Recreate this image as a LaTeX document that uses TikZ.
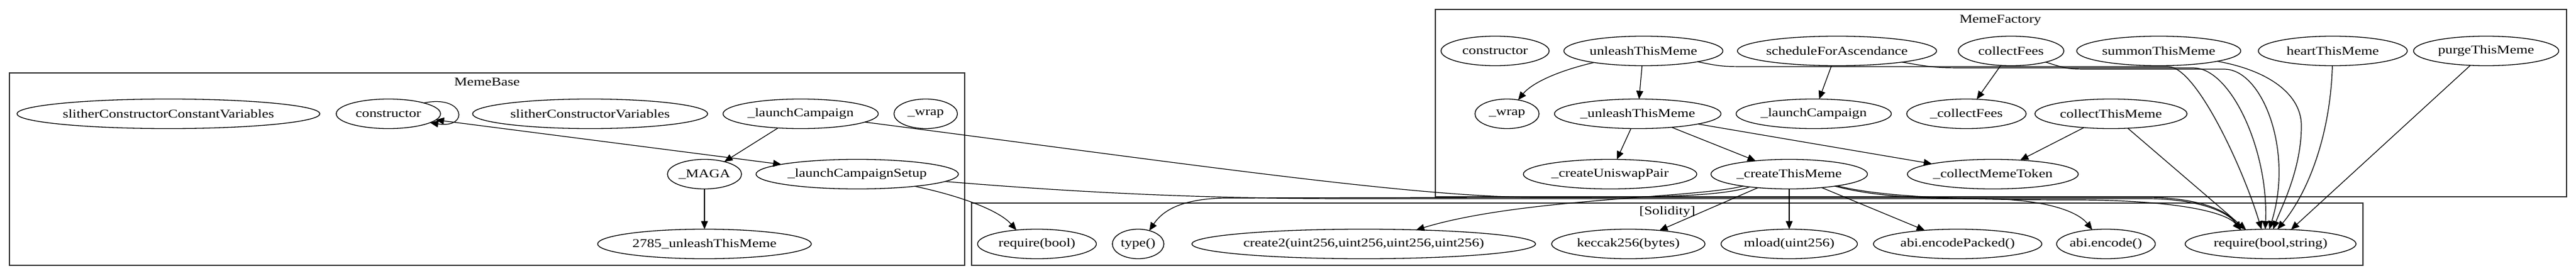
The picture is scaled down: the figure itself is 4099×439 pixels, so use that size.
\documentclass[tikz,border=0pt]{standalone}
\usepackage{fontspec}
\setmainfont{Liberation Serif}
\usetikzlibrary{arrows.meta,shapes.geometric}
\newcommand\lbl[1]{\scalebox{1.22}[1]{#1}}
\newcommand\fnode[5]{\node[fn, minimum width=#4pt] (#1) at (#2,#3) {\makebox[0pt]{\lbl{#5}}};}
\tikzset{
  fn/.style={ellipse, draw, line width=1.3pt, inner sep=0pt, outer sep=0pt,
             minimum height=47pt, font=\fontsize{19}{21}\selectfont},
  edge/.style={line width=1.2pt, -{Triangle[length=13pt,width=11pt]}},
  bothedge/.style={line width=1.2pt, {Triangle[length=13pt,width=11pt]}-{Triangle[length=13pt,width=11pt]}},
  clus/.style={draw=black!80, line width=1.6pt},
  ctitle/.style={font=\fontsize{19}{21}\selectfont, inner sep=0pt}
}
\begin{document}
\begin{tikzpicture}[x=1pt,y=-1pt]
\fill[white] (0,0) rectangle (4099,439);
\useasboundingbox (0,0) rectangle (4099,439);

% clusters
\draw[clus] (15,116) rectangle (1535,422);
\node[ctitle] (tbase) at (775,130) {\lbl{MemeBase}};
\draw[clus] (1546,323) rectangle (3760,422);
\node[ctitle] (tsol) at (2653,337) {\lbl{[Solidity]}};
\draw[clus] (2284,15) rectangle (4084,313);
\node[ctitle] (tfac) at (3183,32) {\lbl{MemeFactory}};

% MemeBase nodes
\fnode{bscc}{268}{181}{482}{slitherConstructorConstantVariables}
\fnode{bcon}{618}{181}{166}{constructor}
\fnode{bscv}{939}{181}{374}{slitherConstructorVariables}
\fnode{blc}{1274}{181}{247}{\_launchCampaign}
\fnode{bwrap}{1473}{181}{101}{\_wrap}
\fnode{bmaga}{1121}{277}{118}{\_MAGA}
\fnode{blcs}{1364}{277}{322}{\_launchCampaignSetup}
\fnode{bnum}{1121}{388}{340}{2785\_unleashThisMeme}

% Solidity nodes
\fnode{sreqb}{1650}{388}{189}{require(bool)}
\fnode{stype}{1811}{388}{82}{type()}
\fnode{screate}{2170}{388}{547}{create2(uint256,uint256,uint256,uint256)}
\fnode{skec}{2591}{388}{244}{keccak256(bytes)}
\fnode{smload}{2847}{388}{217}{mload(uint256)}
\fnode{senp}{3115}{388}{268}{abi.encodePacked()}
\fnode{senc}{3351}{388}{157}{abi.encode()}
\fnode{sreq}{3613}{388}{272}{require(bool,string)}

% MemeFactory nodes
\fnode{fcon}{2379}{81}{172}{constructor}
\fnode{funl}{2615}{81}{253}{unleashThisMeme}
\fnode{fsch}{2923}{81}{317}{scheduleForAscendance}
\fnode{fcf}{3200}{81}{168}{collectFees}
\fnode{fsum}{3435}{81}{261}{summonThisMeme}
\fnode{fhrt}{3712}{81}{237}{heartThisMeme}
\fnode{fprg}{3956}{81}{231}{purgeThisMeme}
\fnode{fwrap}{2398}{181}{102}{\_wrap}
\fnode{fpunl}{2606}{181}{265}{\_unleashThisMeme}
\fnode{fplc}{2886}{181}{247}{\_launchCampaign}
\fnode{fpcf}{3129}{181}{190}{\_collectFees}
\fnode{fcol}{3359}{181}{242}{collectThisMeme}
\fnode{fpuni}{2562}{277}{276}{\_createUniswapPair}
\fnode{fpcre}{2847}{277}{249}{\_createThisMeme}
\fnode{fpcmt}{3171}{277}{272}{\_collectMemeToken}

% MemeBase edges
\draw[edge] (bcon.17) .. controls (740,150) and (748,205) .. (bcon.-12);
\draw[bothedge] (bcon) -- (blcs);
\draw[edge] (blc) -- (bmaga);
\draw[edge] (bmaga) -- (bnum);
\draw[edge] (blcs) .. controls (1530,312) and (1590,335) .. (sreqb.146);
\draw[edge] (blc) .. controls (1900,262) and (2250,314) .. (2450,314) -- (3420,314) .. controls (3500,315) and (3545,335) .. (sreq.155);
\draw[edge] (blcs) .. controls (1700,305) and (1900,316) .. (2150,316) -- (3420,316) .. controls (3500,317) and (3545,337) .. (sreq.155);

% MemeFactory edges
\draw[edge] (funl) .. controls (2470,115) and (2435,135) .. (fwrap);
\draw[edge] (funl) -- (fpunl);
\draw[edge] (funl) .. controls (2740,106) .. (2790,106) -- (3450,106) .. controls (3495,106) and (3570,270) .. (sreq.122);
\draw[edge] (fsch) -- (fplc);
\draw[edge] (fsch) .. controls (3080,108) .. (3140,108) -- (3490,108) .. controls (3550,108) and (3610,240) .. (sreq.110);
\draw[edge] (fcf) -- (fpcf);
\draw[edge] (fcf) .. controls (3290,110) .. (3330,110) -- (3540,110) .. controls (3600,111) and (3650,240) .. (sreq.95);
\draw[edge] (fsum) .. controls (3610,112) and (3662,150) .. (3662,200) .. controls (3662,270) and (3630,330) .. (sreq.80);
\draw[edge] (fhrt) .. controls (3708,220) and (3670,310) .. (sreq.65);
\draw[edge] (fprg) -- (sreq.35);
\draw[edge] (fcol) -- (fpcmt);
\draw[edge] (fcol) -- (sreq.150);
\draw[edge] (fpunl) -- (fpuni);
\draw[edge] (fpunl) -- (fpcre);
\draw[edge] (fpunl) -- (fpcmt);
\draw[edge] (fpcre) .. controls (2730,315) and (2600,314) .. (2400,314) -- (1950,315) .. controls (1880,316) and (1850,335) .. (stype.50);
\draw[edge] (fpcre) .. controls (2700,315) and (2420,315) .. (screate.15);
\draw[edge] (fpcre) -- (skec);
\draw[edge] (fpcre) -- (smload);
\draw[edge] (fpcre) -- (senp);
\draw[edge] (fpcre) .. controls (2980,312) and (3050,316) .. (3150,316) .. controls (3250,316) and (3305,335) .. (senc.134);
\draw[edge] (fpcre) .. controls (2990,312) and (3100,318) .. (3300,318) .. controls (3450,318) and (3540,335) .. (sreq.155);
\end{tikzpicture}
\end{document}
